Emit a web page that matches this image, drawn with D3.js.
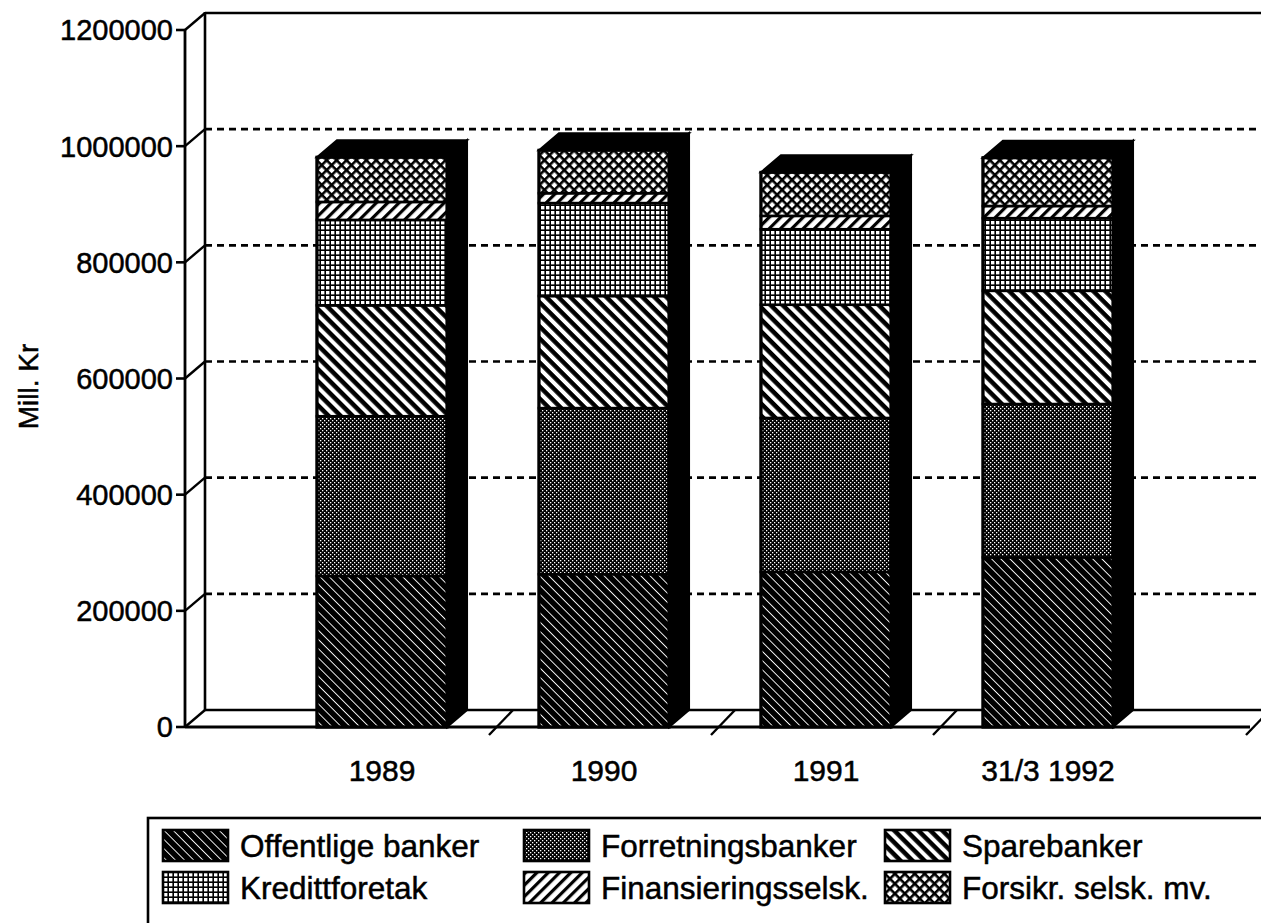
<!DOCTYPE html>
<html>
<head>
<meta charset="utf-8">
<script src="https://cdn.jsdelivr.net/npm/d3@7"></script>
<style>
  body { margin: 0; background: #fff; }
  svg { display: block; font-family: "Liberation Sans", Arial, Helvetica, sans-serif; }
  text { stroke: #000; stroke-width: 0.5px; }
</style>
</head>
<body>
<svg id="chart" width="1261" height="923"></svg>
<script>
// ---------- data ----------
const categories = ["1989", "1990", "1991", "31/3 1992"];
const seriesNames = ["Offentlige banker", "Forretningsbanker", "Sparebanker",
                     "Kredittforetak", "Finansieringsselsk.", "Forsikr. selsk. mv."];
const offentlige   = [260000, 263000, 267000, 292000];
const forretning   = [275000, 286000, 265000, 264000];
const sparebanker  = [191000, 193000, 195000, 195000];
const kreditt      = [147000, 160000, 130000, 125000];
const finansiering = [31000, 17000, 23000, 21000];
const forsikring   = [77000, 74000, 75000, 83000];
const yTicks = [0, 200000, 400000, 600000, 800000, 1000000, 1200000];
const yTitle = "Mill. Kr";

const seriesValues = [offentlige, forretning, sparebanker, kreditt, finansiering, forsikring];
const patternIds = ["pOff", "pForr", "pSpare", "pKred", "pFin", "pFors"];

// ---------- layout ----------
const svg = d3.select("#chart");
const W = 1261;
const DX = 20, DY = -17;          // 3D depth offset
const axisX = 185, floorRight = 1250;

const y = d3.scaleLinear().domain([0, 1200000]).range([727, 30]);
const x = d3.scaleBand().domain(categories).range([271, 1159])
  .paddingInner(0.414).paddingOuter(0.207);

// ---------- patterns ----------
const defs = svg.append("defs");
function pat(id, size, transform) {
  const p = defs.append("pattern").attr("id", id).attr("patternUnits", "userSpaceOnUse")
    .attr("width", size[0]).attr("height", size[1]);
  if (transform) p.attr("patternTransform", transform);
  return p;
}
// Offentlige: black with thin white "\" lines
{ const p = pat("pOff", [6.5, 6.5], "rotate(-45)");
  p.append("rect").attr("width", 6.5).attr("height", 6.5).attr("fill", "#000");
  p.append("rect").attr("x", 0).attr("width", 0.9).attr("height", 6.5).attr("fill", "#fff"); }
// Forretning: black with fine white dots
{ const p = pat("pForr", [4, 4]);
  p.append("rect").attr("width", 4).attr("height", 4).attr("fill", "#000");
  p.append("rect").attr("x", 0).attr("y", 0).attr("width", 1.3).attr("height", 1.3).attr("fill", "#fff");
  p.append("rect").attr("x", 2).attr("y", 2).attr("width", 1.3).attr("height", 1.3).attr("fill", "#fff"); }
// Sparebanker: bold "\" stripes
{ const p = pat("pSpare", [8.5, 8.5], "rotate(-45)");
  p.append("rect").attr("width", 8.5).attr("height", 8.5).attr("fill", "#000");
  p.append("rect").attr("x", 0).attr("width", 4).attr("height", 8.5).attr("fill", "#fff"); }
// Kreditt: grid of white squares
{ const p = pat("pKred", [5, 5]);
  p.append("rect").attr("width", 5).attr("height", 5).attr("fill", "#000");
  p.append("rect").attr("x", 1).attr("y", 1).attr("width", 3.4).attr("height", 3.4).attr("fill", "#fff"); }
// Finansiering: "/" black lines on white
{ const p = pat("pFin", [8, 8], "rotate(45)");
  p.append("rect").attr("width", 8).attr("height", 8).attr("fill", "#fff");
  p.append("rect").attr("x", 0).attr("width", 3.2).attr("height", 8).attr("fill", "#000"); }
// Forsikring: diagonal crosshatch
{ const p = pat("pFors", [7, 7], "rotate(45)");
  p.append("rect").attr("width", 7).attr("height", 7).attr("fill", "#fff");
  p.append("rect").attr("x", 0).attr("width", 2.6).attr("height", 7).attr("fill", "#000");
  p.append("rect").attr("y", 0).attr("width", 7).attr("height", 2.6).attr("fill", "#000"); }

svg.append("rect").attr("width", W).attr("height", 923).attr("fill", "#fff");

// ---------- walls & gridlines ----------
const g = svg.append("g").attr("stroke", "#000").attr("fill", "none");
g.selectAll("line.grid").data(yTicks.filter(d => d > 0 && d < 1200000)).join("line")
  .attr("class", "grid")
  .attr("x1", axisX + DX).attr("x2", W + 10)
  .attr("y1", d => y(d) + DY).attr("y2", d => y(d) + DY)
  .attr("stroke-width", 2.6).attr("stroke-dasharray", "7,5");
g.append("line").attr("x1", axisX + DX).attr("x2", W + 10)
  .attr("y1", y(1200000) + DY).attr("y2", y(1200000) + DY).attr("stroke-width", 2.6);
g.append("line").attr("x1", axisX + DX).attr("x2", W + 10)
  .attr("y1", y(0) + DY).attr("y2", y(0) + DY).attr("stroke-width", 2.6);
g.append("line").attr("x1", axisX + DX).attr("x2", axisX + DX)
  .attr("y1", y(1200000) + DY - 1).attr("y2", y(0) + DY).attr("stroke-width", 2.6);
g.selectAll("line.diag").data(yTicks).join("line")
  .attr("class", "diag")
  .attr("x1", axisX).attr("y1", d => y(d))
  .attr("x2", axisX + DX).attr("y2", d => y(d) + DY).attr("stroke-width", 2.4);
g.append("line").attr("x1", axisX).attr("x2", axisX)
  .attr("y1", y(1200000)).attr("y2", y(0) + 1).attr("stroke-width", 2.8);
g.selectAll("line.tick").data(yTicks).join("line")
  .attr("class", "tick")
  .attr("x1", axisX - 9).attr("x2", axisX)
  .attr("y1", d => y(d)).attr("y2", d => y(d)).attr("stroke-width", 2.6);
g.append("line").attr("x1", axisX).attr("x2", floorRight)
  .attr("y1", y(0)).attr("y2", y(0)).attr("stroke-width", 2.8);
const step = x.step();
const bounds = categories.slice(1).map(c => x(c) - (step - x.bandwidth()) / 2);
bounds.push(floorRight);
bounds.forEach(b => {
  g.append("line").attr("x1", b - 4).attr("y1", y(0) + 8)
    .attr("x2", b + DX).attr("y2", y(0) + DY).attr("stroke-width", 2.4);
});

// ---------- y labels ----------
svg.append("g").selectAll("text").data(yTicks).join("text")
  .attr("x", axisX - 12).attr("y", d => y(d)).attr("dy", "0.36em")
  .attr("text-anchor", "end").attr("font-size", 29).attr("fill", "#000")
  .text(d => d);
svg.append("text")
  .attr("transform", `translate(38,${y(600000) + 8}) rotate(-90)`)
  .attr("text-anchor", "middle").attr("font-size", 28).attr("fill", "#000")
  .text(yTitle);

// ---------- x labels ----------
svg.append("g").selectAll("text").data(categories).join("text")
  .attr("x", d => x(d) + x.bandwidth() / 2).attr("y", 781)
  .attr("text-anchor", "middle").attr("font-size", 30).attr("fill", "#000")
  .text(d => d);

// ---------- bars ----------
const stackData = categories.map((c, i) => {
  const o = { cat: c };
  seriesNames.forEach((s, k) => o[s] = seriesValues[k][i]);
  return o;
});
const stacked = d3.stack().keys(seriesNames)(stackData);
const bw = x.bandwidth();

categories.forEach((c, i) => {
  const total = d3.sum(seriesValues, s => s[i]);
  const x0 = x(c), x1 = x0 + bw, yT = y(total), yB = y(0);
  const bg = svg.append("g");
  bg.append("polygon")
    .attr("points", [[x1, yT], [x1 + DX, yT + DY], [x1 + DX, yB + DY], [x1, yB]].join(" "))
    .attr("fill", "#000").attr("stroke", "#000").attr("stroke-width", 2);
  bg.append("polygon")
    .attr("points", [[x0, yT], [x0 + DX, yT + DY], [x1 + DX, yT + DY], [x1, yT]].join(" "))
    .attr("fill", "#000").attr("stroke", "#000").attr("stroke-width", 2);
});

stacked.forEach((layer, k) => {
  svg.append("g").selectAll("rect").data(layer).join("rect")
    .attr("x", d => x(d.data.cat))
    .attr("y", d => y(d[1]))
    .attr("width", bw)
    .attr("height", d => y(d[0]) - y(d[1]))
    .attr("fill", `url(#${patternIds[k]})`)
    .attr("stroke", "#000").attr("stroke-width", 2.6);
});
svg.append("g").selectAll("rect").data(categories).join("rect")
  .attr("x", c => x(c)).attr("width", bw)
  .attr("y", (c, i) => y(d3.sum(seriesValues, s => s[i])))
  .attr("height", (c, i) => y(0) - y(d3.sum(seriesValues, s => s[i])))
  .attr("fill", "none").attr("stroke", "#000").attr("stroke-width", 3);

// ---------- legend ----------
svg.append("rect").attr("x", 148).attr("y", 818).attr("width", 1200).attr("height", 130)
  .attr("fill", "none").attr("stroke", "#000").attr("stroke-width", 2.6);
const legendOrder = [0, 1, 2, 3, 4, 5];
const colX = [163, 524, 885];
const rowY = [830, 872];
const lg = svg.append("g").selectAll("g").data(legendOrder).join("g")
  .attr("transform", (k, j) => `translate(${colX[j % 3]},${rowY[Math.floor(j / 3)]})`);
lg.append("rect").attr("width", 65).attr("height", 31)
  .attr("fill", k => `url(#${patternIds[k]})`).attr("stroke", "#000").attr("stroke-width", 2.6);
lg.append("text").attr("x", 77).attr("y", 27).attr("font-size", 31.5).attr("fill", "#000")
  .text(k => seriesNames[k]);
</script>
</body>
</html>
